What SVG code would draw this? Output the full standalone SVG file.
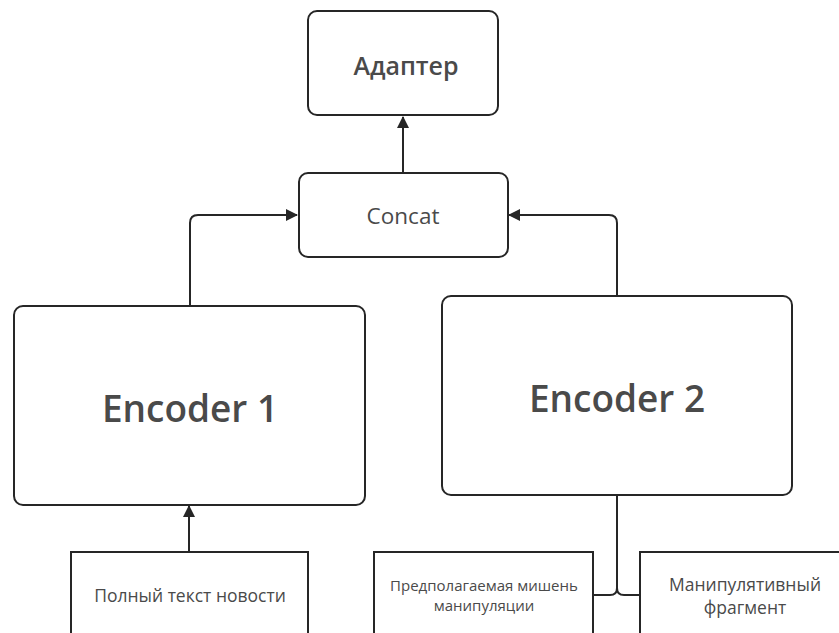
<svg xmlns="http://www.w3.org/2000/svg" width="839" height="633" viewBox="0 0 839 633">
<style>
.box{fill:#fff;stroke:#262626;stroke-width:2}
.t{font-family:"Open Sans","Noto Sans","Liberation Sans",sans-serif;fill:#4a4a4a;text-anchor:middle}
.c{fill:none;stroke:#262626;stroke-width:2}
</style>
<defs>
<marker id="a" viewBox="0 0 12 12" refX="11" refY="6" markerWidth="12" markerHeight="12" orient="auto" markerUnits="userSpaceOnUse">
<path d="M0,0 L12,6 L0,12 z" fill="#262626"/>
</marker>
</defs>
<rect width="839" height="633" fill="#fff"/>
<g id="connectors">
<path class="c" d="M403,173 V117" marker-end="url(#a)"/>
<path class="c" d="M190,305 V223 Q190,215 198,215 H297" marker-end="url(#a)"/>
<path class="c" d="M617,296 V223 Q617,215 609,215 H509" marker-end="url(#a)"/>
<path class="c" d="M189,552 V506" marker-end="url(#a)"/>
<path class="c" d="M617,496 V588 Q617,595 610,595 H593"/>
<path class="c" d="M617,588 Q617,595 624,595 H640"/>
</g>
<g id="adapter">
<rect class="box" x="308" y="11" width="190" height="104" rx="9"/>
<text class="t" x="406" y="75" font-size="25" font-weight="600">Адаптер</text>
</g>
<g id="concat">
<rect class="box" x="299" y="173" width="209" height="84" rx="9"/>
<text class="t" x="403" y="224" font-size="22.5">Concat</text>
</g>
<g id="encoder1">
<rect class="box" x="14" y="306" width="351" height="199" rx="9"/>
<text class="t" x="190" y="422" font-size="37" font-weight="600">Encoder 1</text>
</g>
<g id="encoder2">
<rect class="box" x="442" y="296" width="350" height="199" rx="9"/>
<text class="t" x="617" y="412" font-size="37" font-weight="600">Encoder 2</text>
</g>
<g id="fulltext">
<rect class="box" x="71" y="552" width="237" height="100"/>
<text class="t" x="190" y="602" font-size="17.5">Полный текст новости</text>
</g>
<g id="target">
<rect class="box" x="374" y="552" width="219" height="100"/>
<text class="t" x="484" y="591" font-size="15">Предполагаемая мишень</text>
<text class="t" x="484" y="611" font-size="15">манипуляции</text>
</g>
<g id="fragment">
<rect class="box" x="640" y="552" width="210" height="100"/>
<text class="t" x="745" y="591" font-size="17.5">Манипулятивный</text>
<text class="t" x="745" y="614" font-size="17.5">фрагмент</text>
</g>
</svg>
